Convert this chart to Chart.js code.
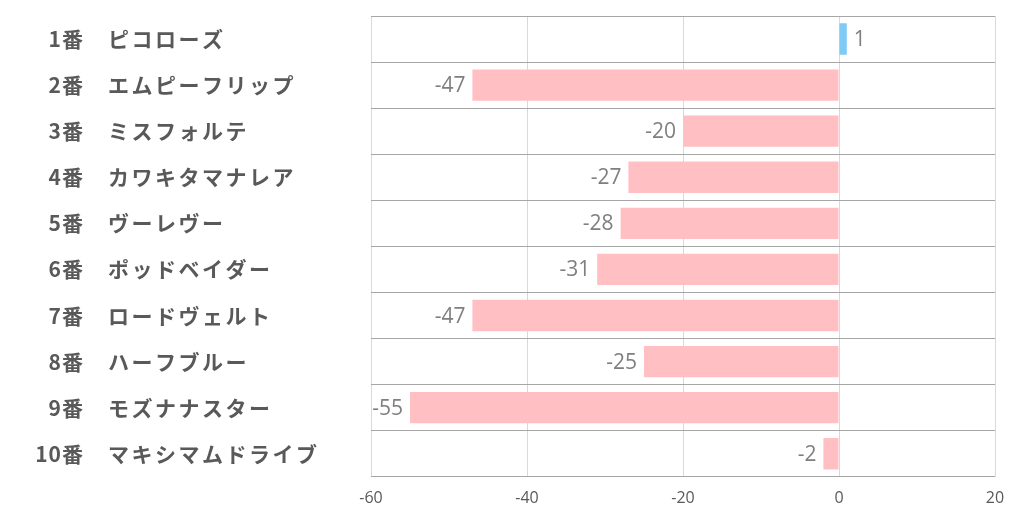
<!DOCTYPE html>
<html>
<head>
<meta charset="utf-8">
<script src="https://cdn.jsdelivr.net/npm/chart.js@4"></script>
<style>
  html, body { margin: 0; padding: 0; background: #fff; }
  #wrap { width: 1022px; height: 522px; }
</style>
</head>
<body>
<div id="wrap"><canvas id="c" width="1022" height="522"></canvas></div>
<script>
// horse numbers and names, top to bottom
const numbers = ['1番', '2番', '3番', '4番', '5番', '6番', '7番', '8番', '9番', '10番'];
const names = ['ピコローズ', 'エムピーフリップ', 'ミスフォルテ', 'カワキタマナレア', 'ヴーレヴー',
  'ポッドベイダー', 'ロードヴェルト', 'ハーフブルー', 'モズナナスター', 'マキシマムドライブ'];
const values = [1, -47, -20, -27, -28, -31, -47, -25, -55, -2];
const xTicks = [-60, -40, -20, 0, 20];

const POS = '#7fcbf5', NEG = '#ffbfc3';

// left side labels: number right-aligned, name left-aligned
const rowLabels = {
  id: 'rowLabels',
  afterDraw(chart) {
    const ctx = chart.ctx, y = chart.scales.y;
    ctx.save();
    ctx.fillStyle = '#595959';
    ctx.font = 'bold 21px "Noto Sans CJK JP", "Noto Sans", sans-serif';
    ctx.textBaseline = 'middle';
    numbers.forEach((n, i) => {
      const py = y.getPixelForValue(i);
      ctx.letterSpacing = '1px';
      ctx.textAlign = 'right';
      ctx.fillText(n, 84, py);
      ctx.letterSpacing = '2.5px';
      ctx.textAlign = 'left';
      ctx.fillText(names[i], 108, py);
    });
    ctx.restore();
  }
};

// value labels just outside the bar ends
const valueLabels = {
  id: 'valueLabels',
  afterDatasetsDraw(chart) {
    const ctx = chart.ctx;
    const meta = chart.getDatasetMeta(0);
    ctx.save();
    ctx.fillStyle = '#7f7f7f';
    ctx.font = '21px "Open Sans", "Noto Sans", sans-serif';
    ctx.textBaseline = 'middle';
    meta.data.forEach((bar, i) => {
      const v = values[i];
      if (v < 0) {
        ctx.textAlign = 'right';
        ctx.fillText(String(v), bar.x - 7, bar.y + 1);
      } else {
        ctx.textAlign = 'left';
        ctx.fillText(String(v), bar.x + 7, bar.y + 1);
      }
    });
    ctx.restore();
  }
};

new Chart(document.getElementById('c').getContext('2d'), {
  type: 'bar',
  data: {
    labels: numbers.map((n, i) => n + ' ' + names[i]),
    datasets: [{
      data: values,
      backgroundColor: values.map(v => v >= 0 ? POS : NEG),
      categoryPercentage: 1,
      barPercentage: 0.68
    }]
  },
  options: {
    indexAxis: 'y',
    responsive: false,
    animation: false,
    layout: { padding: { left: 371, right: 27, top: 16, bottom: 2 } },
    plugins: { legend: { display: false }, tooltip: { enabled: false } },
    scales: {
      x: {
        min: -60, max: 20,
        afterBuildTicks(s) { s.ticks = xTicks.map(v => ({ value: v })); },
        grid: { color: '#d9d9d9', lineWidth: 1, drawTicks: false },
        border: { display: false },
        ticks: {
          color: '#595959',
          font: { size: 16, family: '"Open Sans", "Noto Sans", sans-serif' },
          padding: 12
        }
      },
      y: {
        grid: { color: '#a6a6a6', lineWidth: 1, offset: true, drawTicks: false },
        border: { display: false },
        ticks: { display: false }
      }
    }
  },
  plugins: [rowLabels, valueLabels]
});
</script>
</body>
</html>
